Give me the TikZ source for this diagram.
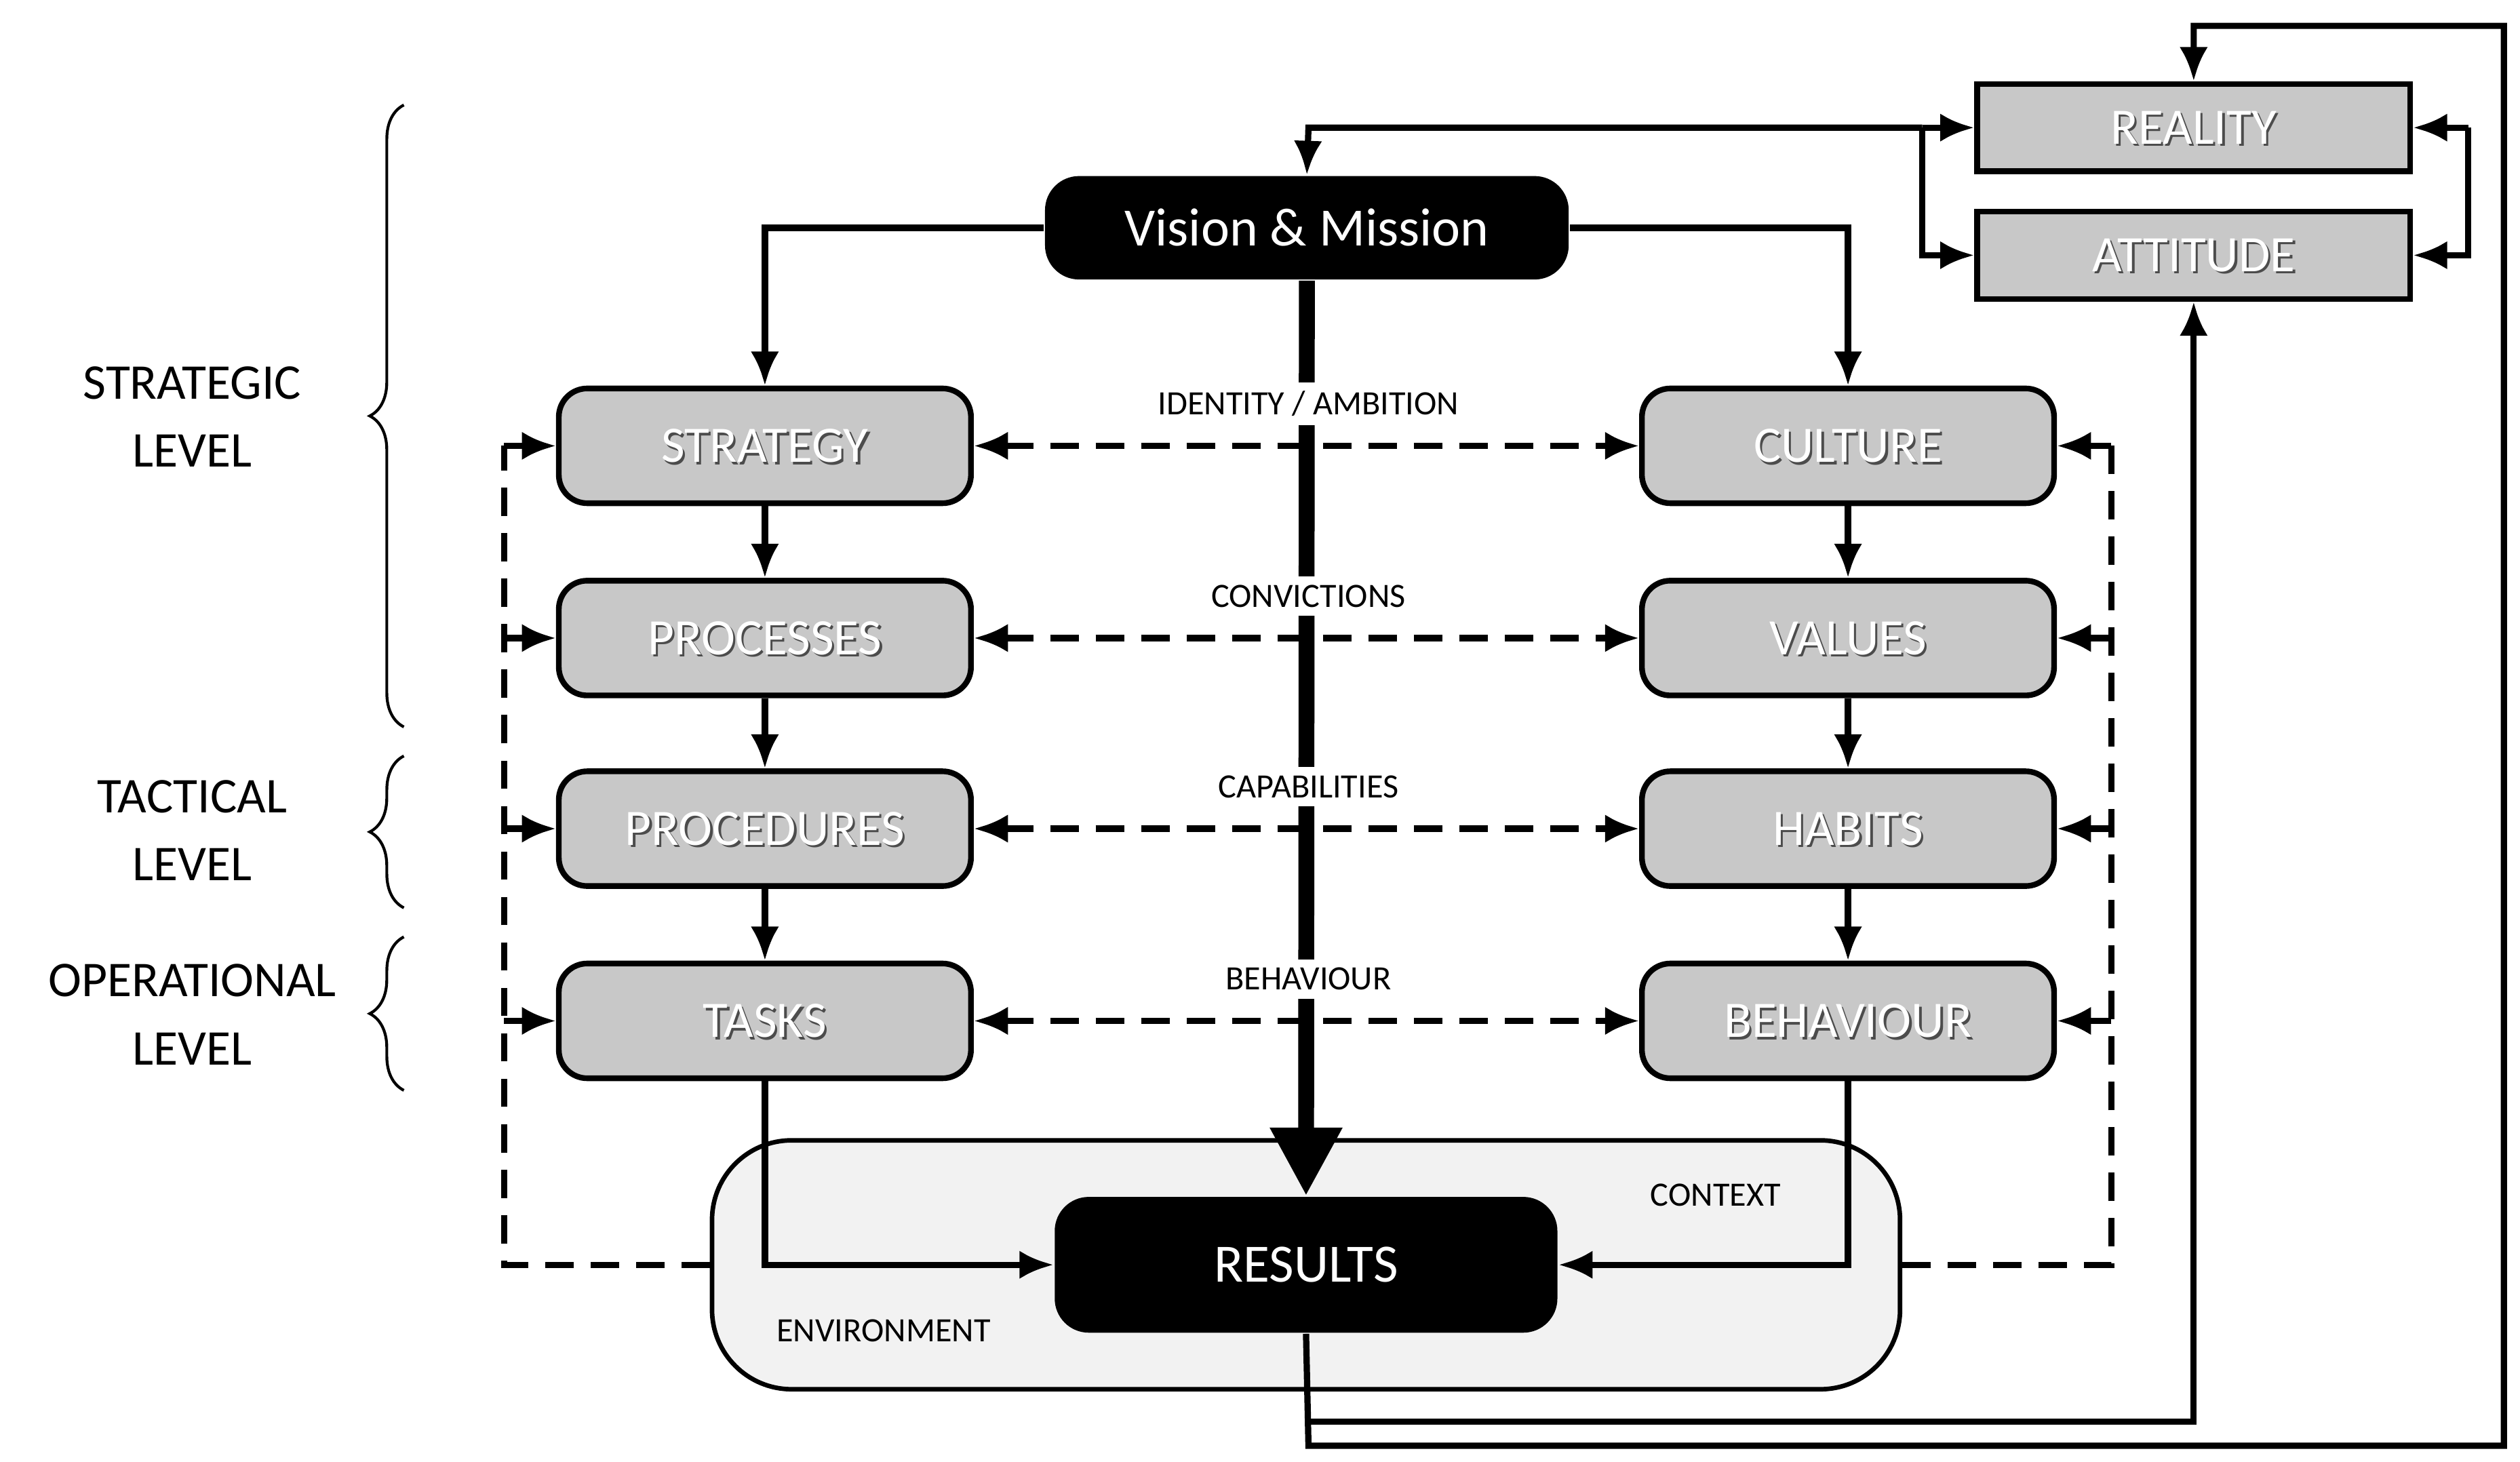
\documentclass[tikz,border=0pt]{standalone}
\usepackage{fontspec}
\setmainfont{Carlito}
\usetikzlibrary{arrows.meta,decorations.pathreplacing}
\definecolor{boxgray}{RGB}{200,200,200}
\definecolor{ctx}{RGB}{242,242,242}
\tikzset{
 gbox/.style={draw=black,line width=1pt,fill=boxgray,rounded corners=5pt,minimum width=2.55cm,minimum height=0.71cm,inner sep=0pt},
 rbox/.style={draw=black,line width=1pt,fill=boxgray,minimum width=2.68cm,minimum height=0.54cm,inner sep=0pt},
 bbox/.style={fill=black,rounded corners=6pt,text=white,font=\fontsize{9.5}{10}\selectfont,inner sep=0pt},
 wt/.style={text=white,font=\fontsize{9}{10}\selectfont},
 sh/.style={text=black!70,font=\fontsize{9}{10}\selectfont},
 arr/.style={line width=1.1pt,-{Latex[length=6pt,width=5pt]}},
 ln/.style={line width=1.1pt},
 dsh/.style={line width=1.1pt,dash pattern=on 5pt off 3pt},
 darr/.style={dsh,{Latex[length=6pt,width=5pt]}-{Latex[length=6pt,width=5pt]}},
 dar/.style={dsh,-{Latex[length=6pt,width=5pt]}},
 lbl/.style={fill=white,font=\fontsize{6}{7}\selectfont,inner sep=1.5pt},
 lvl/.style={align=center,font=\fontsize{8.8}{12}\selectfont},
 brc/.style={decorate,decoration={brace,amplitude=6pt},line width=0.5pt}
}
\newcommand{\gb}[4]{\node[gbox] (#1) at (#2,#3) {}; \node[sh] at ([xshift=0.4pt,yshift=-0.4pt]#1.center) {#4}; \node[wt] at (#1.center) {#4};}
\newcommand{\rb}[4]{\node[rbox] (#1) at (#2,#3) {}; \node[sh] at ([xshift=0.4pt,yshift=-0.4pt]#1.center) {#4}; \node[wt] at (#1.center) {#4};}
\begin{document}
\begin{tikzpicture}[x=0.01cm,y=-0.01cm]
\useasboundingbox (0,0) rectangle (1560,905);
% context
\node[draw=black,line width=0.8pt,fill=ctx,rounded corners=14pt,minimum width=7.35cm,minimum height=1.54cm] (ctxb) at (808.5,783) {};
\node[font=\fontsize{6}{7}\selectfont] (ctxl) at (1062,740) {CONTEXT};
\node[font=\fontsize{6}{7}\selectfont] (envl) at (547,824) {ENVIRONMENT};
% boxes
\node[bbox,minimum width=3.24cm,minimum height=0.64cm] (vm) at (809,141) {Vision \& Mission};
\node[bbox,minimum width=3.11cm,minimum height=0.84cm] (res) at (808.5,783) {RESULTS};
\gb{st}{473.5}{276}{STRATEGY}
\gb{pr}{473.5}{395}{PROCESSES}
\gb{pc}{473.5}{513}{PROCEDURES}
\gb{ta}{473.5}{632}{TASKS}
\gb{cu}{1144}{276}{CULTURE}
\gb{va}{1144}{395}{VALUES}
\gb{ha}{1144}{513}{HABITS}
\gb{be}{1144}{632}{BEHAVIOUR}
\rb{re}{1358}{79}{REALITY}
\rb{at}{1358}{158}{ATTITUDE}
% central thick arrow
\draw[line width=2.8pt,-{Triangle[length=12pt,width=12pt]}] (vm.south) -- (res.north);
\node[lbl] (l1) at (810,250) {IDENTITY / AMBITION};
\node[lbl] (l2) at (810,369) {CONVICTIONS};
\node[lbl] (l3) at (810,487) {CAPABILITIES};
\node[lbl] (l4) at (810,606) {BEHAVIOUR};
% vision to top boxes
\draw[arr] (vm.west) -| (st.north);
\draw[arr] (vm.east) -| (cu.north);
\draw[arr] (st) -- (pr); \draw[arr] (pr) -- (pc); \draw[arr] (pc) -- (ta);
\draw[arr] (cu) -- (va); \draw[arr] (va) -- (ha); \draw[arr] (ha) -- (be);
\draw[arr] (ta.south) |- (res.west);
\draw[arr] (be.south) |- (res.east);
% dashed horizontals
\draw[darr] (st) -- (cu); \draw[darr] (pr) -- (va); \draw[darr] (pc) -- (ha); \draw[darr] (ta) -- (be);
% dashed loops
\coordinate (lb) at (312,783); \coordinate (lt) at (312,276);
\draw[dsh] (ctxb.west) -- (lb) -- (lt);
\draw[dar] (lt) -- (st.west);
\draw[dar] (312,395) -- (pr.west);
\draw[dar] (312,513) -- (pc.west);
\draw[dar] (312,632) -- (ta.west);
\coordinate (rbt) at (1307,783); \coordinate (rt) at (1307,276);
\draw[dsh] (ctxb.east) -- (rbt) -- (rt);
\draw[dar] (rt) -- (cu.east);
\draw[dar] (1307,395) -- (va.east);
\draw[dar] (1307,513) -- (ha.east);
\draw[dar] (1307,632) -- (be.east);
% feedback loops
\coordinate (f1) at (810,880); \coordinate (f2) at (810,895);
\draw[arr] (res.south) -- (f2) -- (1550,895) -- (1550,16) -| (re.north);
\draw[arr] (f1) -| (at.south);
\coordinate (j) at (1190,79);
\draw[arr] (j) -- (re.west);
\draw[arr] (j) -- (810,79) -- (vm.north);
\draw[arr] (j) |- (at.west);
\coordinate (rr) at (1528,79);
\draw[arr] (rr) -- (re.east);
\draw[arr] (rr) |- (at.east);
% braces and levels
\draw[brc] (250,450) -- (250,65);
\draw[brc] (250,562) -- (250,468);
\draw[brc] (250,675) -- (250,580);
\node[lvl] (sl) at (119,258) {STRATEGIC\\LEVEL};
\node[lvl] (tl) at (119,514) {TACTICAL\\LEVEL};
\node[lvl] (ol) at (119,628) {OPERATIONAL\\LEVEL};
\end{tikzpicture}
\end{document}
